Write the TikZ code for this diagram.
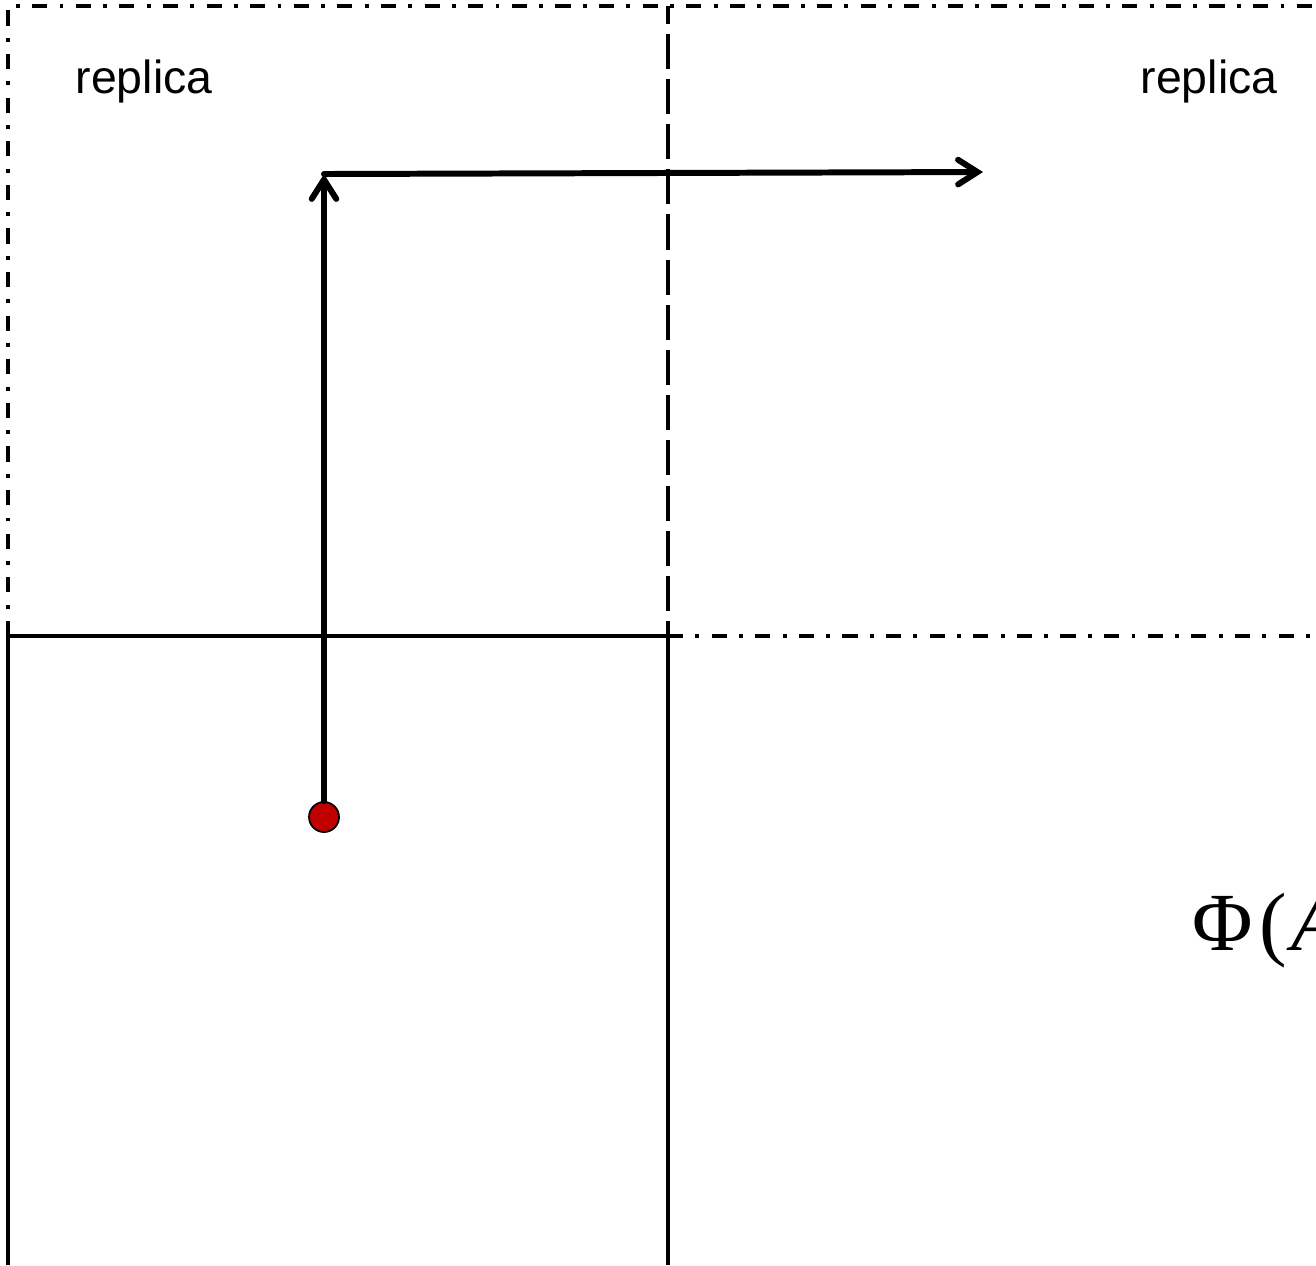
\documentclass[tikz,border=0pt]{standalone}
\usepackage{fontspec}
\setmainfont{Liberation Sans}
\newfontfamily\phifont{Liberation Serif}
\usetikzlibrary{arrows.meta}

\begin{document}
\begin{tikzpicture}[x=0.01cm, y=-0.01cm,
        cellline/.style={line width=1.1pt},
        replicaline/.style={line width=1.1pt, dash pattern=on 4.3pt off 3.5pt on 1.1pt off 3.5pt},
        borderline/.style={line width=1.1pt, dash pattern=on 10pt off 2.85pt, dash phase=5pt},
        move/.style={line width=1.7pt, line cap=round, -{Straight Barb[length=5.5pt, width=7pt, line cap=round]}},
        replicatext/.style={font=\fontsize{13.2}{16}\selectfont, inner sep=0pt, anchor=base west}]
    \useasboundingbox (0, 0) rectangle (1316, 1265);
    \clip (0, 0) rectangle (1316, 1265);

    % Main cell
    \draw[cellline] (8, 1265) -- (8, 636) -- (668, 636) -- (668, 1265);

    % Replica cells
    \draw[replicaline] (8, 636) -- (8, 6) -- (1316, 6);
    \draw[replicaline] (668, 636) -- (1316, 636);
    \draw[borderline] (668, 6) -- (668, 636);

    % Labels
    \node[replicatext] (replicaleft) at (75, 93) {replica};
    \node[replicatext] (replicaright) at (1140, 93) {replica};
    \node[inner sep=0pt, anchor=base west, font=\fontsize{23.5}{27}\phifont] (phi) at (1192, 950) {Φ\kern1.8pt(\kern1.2pt\textit{A}};

    % Particle and its move
    \node[circle, draw, line width=0.5pt, fill={rgb,255:red,192;green,0;blue,0}, minimum size=0.3cm, inner sep=0pt] (particle) at (324, 817) {};
    \coordinate (turn) at (324, 174);
    \coordinate (target) at (983, 172);
    \draw[move] (particle) -- (turn);
    \draw[move] (turn) -- (target);
\end{tikzpicture}
\end{document}
